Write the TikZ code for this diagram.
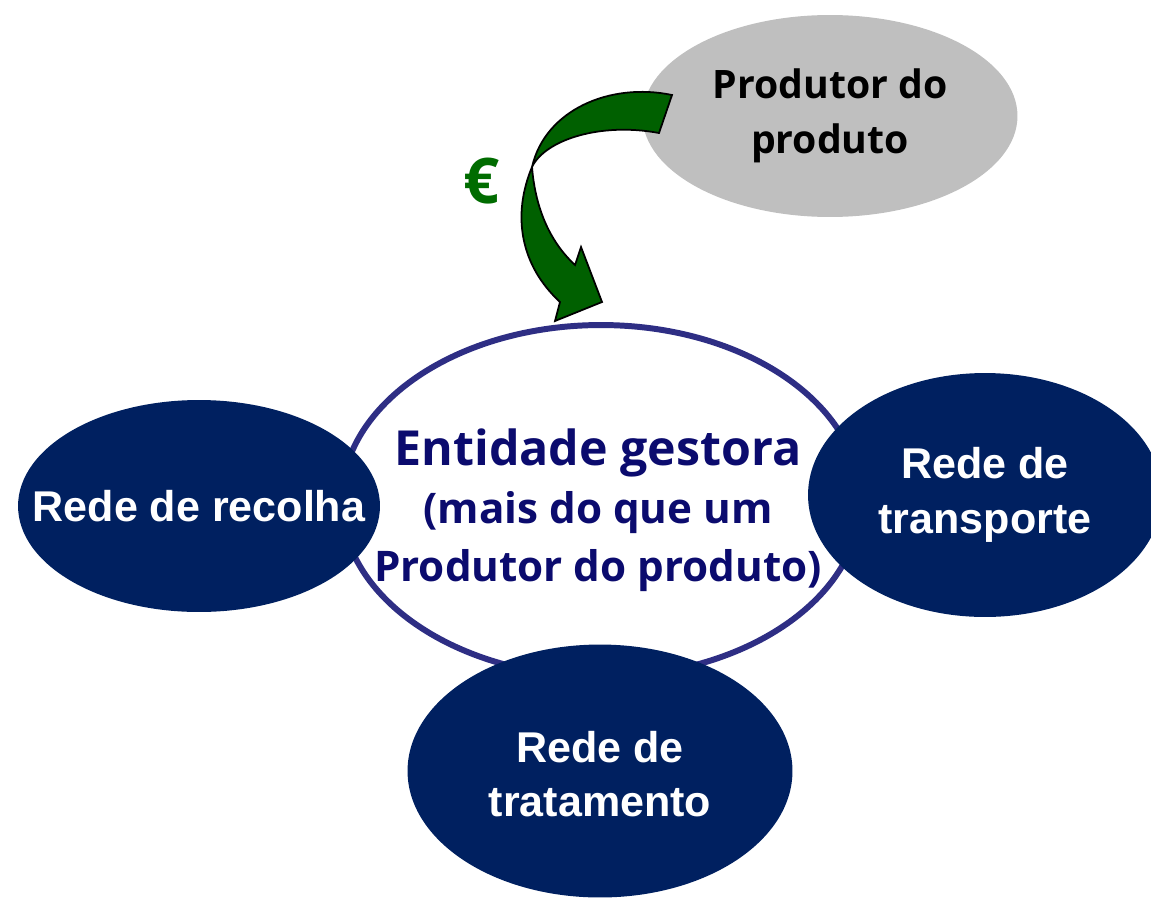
\documentclass[tikz,border=0pt]{standalone}
\usepackage{fontspec}
\setmainfont{Liberation Sans}
\newfontfamily\opensans{Open Sans}
\usetikzlibrary{shapes.geometric}
\definecolor{navy}{HTML}{002060}
\definecolor{rim}{HTML}{2E2E84}
\definecolor{ink}{HTML}{0B0B6E}
\definecolor{cinza}{HTML}{BFBFBF}
\definecolor{verde}{HTML}{006000}
\definecolor{euro}{HTML}{006C00}
\newcommand{\bigline}{\fontsize{27.5}{33}\selectfont}
\newcommand{\smallline}{\fontsize{24}{33}\selectfont}
\tikzstyle{rede} = [ellipse, inner sep=0pt, fill=navy]
\tikzstyle{redetext} = [text=white, align=center, font=\bfseries\fontsize{24.5}{31}\selectfont]
\tikzstyle{gestora} = [ellipse, inner sep=0pt, draw=rim, line width=3.4pt, fill=white]
\tikzstyle{gestoratext} = [text=ink, align=center, font=\opensans\bfseries\fontsize{24}{33}\selectfont]
\tikzstyle{produtor} = [ellipse, inner sep=0pt, fill=cinza]
\tikzstyle{produtortext} = [align=center, font=\opensans\bfseries\fontsize{22.3}{31}\selectfont]
\tikzstyle{fluxo} = [fill=verde, draw=black, line width=1pt, line join=miter]

\begin{document}
\begin{tikzpicture}[x=0.02cm, y=-0.02cm]
\useasboundingbox (0,0) rectangle (1151,899);

% Produtor do produto
\node[produtor, minimum width=7.5cm, minimum height=4.04cm] (produtor) at (830,116) {};
\node[produtortext] (produtorlabel) at (produtor) {Produtor do\\produto};

% Entidade gestora
\node[gestora, minimum width=10.38cm, minimum height=7.04cm] (gestora) at (601,501) {};
\node[gestoratext] (gestoralabel) at (598,510) {\bigline Entidade gestora\\\smallline (mais do que um\\\smallline Produtor do produto)};

% redes around the entidade gestora
\node[rede, minimum width=7.24cm, minimum height=4.24cm] (recolha) at (199,506) {};
\node[redetext] (recolhalabel) at (recolha) {Rede de recolha};
\node[rede, minimum width=7.08cm, minimum height=4.88cm] (transporte) at (985,495) {};
\node[redetext] (transportelabel) at (transporte) {Rede de\\transporte};
\node[rede, minimum width=7.7cm, minimum height=5.06cm] (tratamento) at (600,771) {};
\node[redetext] (tratamentolabel) at (600,774) {Rede de\\tratamento};

% money flow from produtor to gestora
\filldraw[fluxo] (672,95) .. controls (610,82) and (545,110) .. (532,167)
  .. controls (512,215) and (520,265) .. (560,302)
  -- (555,321) -- (602,302) -- (581,247) -- (575,265)
  .. controls (548,240) and (535,205) .. (532,167)
  .. controls (545,140) and (600,122) .. (659,133) -- cycle;
\node[text=euro, font=\opensans\bfseries\fontsize{36}{36}\selectfont] (euro) at (482,181) {€};

\end{tikzpicture}
\end{document}
